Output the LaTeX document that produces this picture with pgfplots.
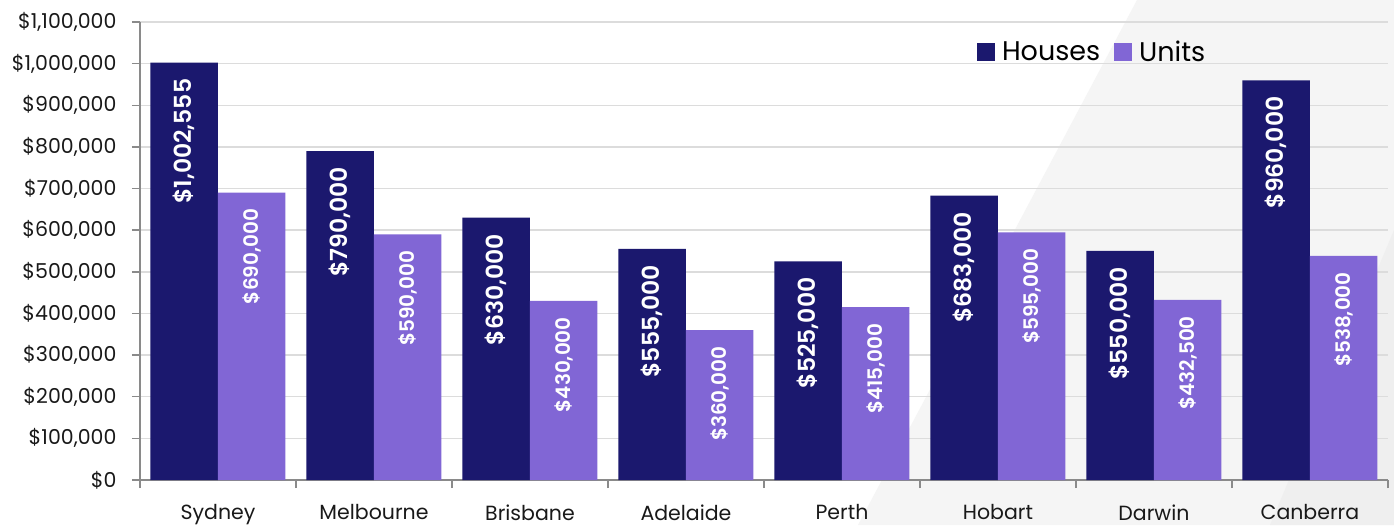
\documentclass[border=0pt]{standalone}
\usepackage{fontspec}
\setmainfont{Poppins}
\newfontfamily\pSemi{Poppins SemiBold}
\usepackage{pgfplots}
\usepackage{pgfplotstable}
\pgfplotsset{compat=1.18}
\definecolor{houses}{HTML}{1B186E}
\definecolor{units}{HTML}{8166D5}
\definecolor{gridc}{HTML}{DCDCDC}
\definecolor{axc}{HTML}{8A8A8A}
\definecolor{bgc}{HTML}{F5F5F5}
\definecolor{bgd}{HTML}{EFEFEF}
\pgfplotstableread{
x h hl u ul
0 1002555 1,002,555 690000 690,000
1 790000 790,000 590000 590,000
2 630000 630,000 430000 430,000
3 555000 555,000 360000 360,000
4 525000 525,000 415000 415,000
5 683000 683,000 595000 595,000
6 550000 550,000 432500 432,500
7 960000 960,000 538000 538,000
}\data
\begin{document}
\begin{tikzpicture}
\useasboundingbox (-140pt,-45pt) rectangle (1254pt,480pt);
\fill[white] (-140pt,-45pt) rectangle (1254pt,480pt);
\fill[bgc] (997pt,480pt) -- (1254pt,480pt) -- (1254pt,-45pt) -- (718pt,-45pt) -- cycle;
\fill[bgd] (1254pt,250pt) -- (1254pt,-45pt) -- (1130pt,-45pt) -- cycle;
\begin{axis}[
  at={(0pt,0pt)}, anchor=south west,
  scale only axis, width=1248pt, height=458pt,
  ybar=0pt, bar width=67.5pt,
  xmin=-0.5, xmax=7.5, ymin=0, ymax=1100000,
  axis x line*=bottom, axis y line*=left,
  axis line style={draw=axc, line width=1.5pt},
  xtick={0,...,7},
  xticklabels={Sydney,Melbourne,Brisbane,Adelaide,Perth,Hobart,Darwin,Canberra},
  minor xtick={-0.5,0.5,1.5,2.5,3.5,4.5,5.5,6.5,7.5},
  major x tick style={draw=none},
  minor x tick style={draw=axc, line width=1.5pt},
  ytick={0,100000,200000,300000,400000,500000,600000,700000,800000,900000,1000000,1100000},
  y tick style={draw=axc, line width=1.5pt},
  tick align=outside, major tick length=8pt, minor tick length=8pt,
  scaled y ticks=false,
  /pgf/number format/assume math mode=true,
  yticklabel={\$\pgfmathprintnumber[fixed,precision=0,1000 sep={,}]{\tick}},
  ticklabel style={font=\fontsize{20.5}{22}\selectfont, text=black!90},
  yticklabel style={xshift=-12pt},
  xticklabel style={yshift=-13pt},
  ymajorgrids, grid style={draw=gridc, line width=1.5pt},
  legend style={at={(0.763,0.934)}, anchor=center, draw=none, fill=none,
    font=\fontsize{27}{29}\selectfont,
    /tikz/every odd column/.append style={column sep=5pt},
    /tikz/every even column/.append style={column sep=12pt}},
  legend columns=2,
  legend image code/.code={\fill[#1] (0pt,-9pt) rectangle (18pt,9pt);},
  clip=false,
]
\addplot[fill=houses, draw=none,
  point meta=explicit symbolic,
  nodes near coords={\$\pgfplotspointmeta},
  every node near coord/.append style={rotate=90, anchor=east, text=white,
     font=\pSemi\fontsize{23.5}{23.5}\selectfont, inner xsep=16pt}]
  table[x=x, y=h, meta=hl]{\data};
\addplot[fill=units, draw=none,
  point meta=explicit symbolic,
  nodes near coords={\$\pgfplotspointmeta},
  every node near coord/.append style={rotate=90, anchor=east, text=white,
     font=\pSemi\fontsize{20}{20}\selectfont, inner xsep=16pt}]
  table[x=x, y=u, meta=ul]{\data};
\legend{Houses,Units}
\end{axis}
\end{tikzpicture}
\end{document}
